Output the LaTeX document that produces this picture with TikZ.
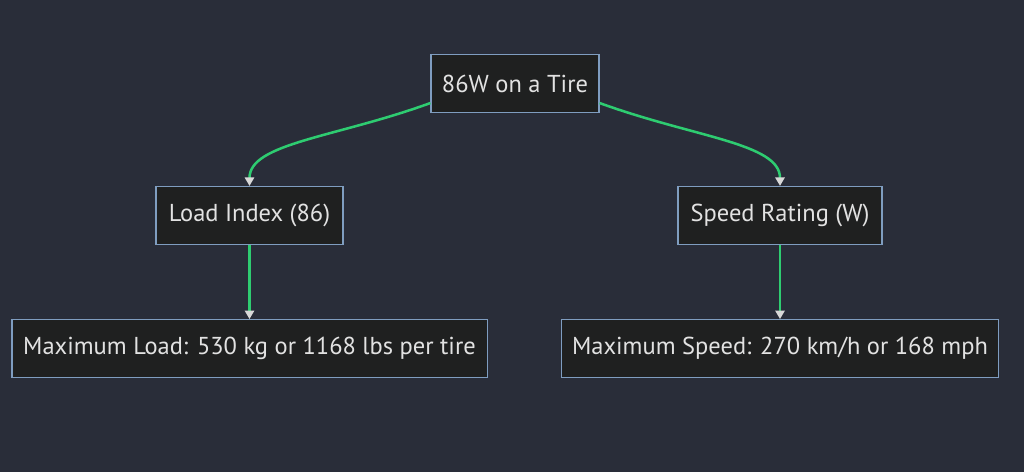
\documentclass[tikz,border=0pt]{standalone}
\usepackage{fontspec}
\setmainfont{PT Sans}
\usepackage{xcolor}
\definecolor{colorBack}{HTML}{292D39}
\definecolor{colorBox}{HTML}{1F2020}
\definecolor{colorBorder}{HTML}{7F9DC0}
\definecolor{colorText}{HTML}{E2E2E2}
\definecolor{colorLink}{HTML}{2ECC71}
\definecolor{colorTip}{HTML}{D8D8D8}
\usetikzlibrary{arrows.meta, positioning}
\tikzset{box/.style={draw=colorBorder, fill=colorBox, line width=0.8pt, text=colorText, font=\fontsize{17.4}{19}\selectfont, minimum height=1.45cm, inner sep=0pt}}
\tikzset{link/.style={->, colorLink, line width=1.8pt}}

\begin{document}
\begin{tikzpicture}[>={Triangle[length=6pt,width=6.5pt,color=colorTip]}, node distance=1.85cm, x=0.025cm, y=-0.025cm]
\fill[colorBack] (0,0) rectangle (1024,472);
\useasboundingbox (0,0) rectangle (1024,472);
\node[box, minimum width=4.2cm] (tire) at (515,83.5) {86W on a Tire};
\node[box, minimum width=4.675cm] (load) at (249.5,215.5) {Load Index (86)};
\node[box, minimum width=5.1cm] (speed) at (780,215.5) {Speed Rating (W)};
\node[box, minimum width=11.875cm, below=of load] (maxload) {Maximum Load: 530 kg or 1168 lbs per tire};
\node[box, minimum width=10.925cm, below=of speed] (maxspeed) {Maximum Speed: 270 km/h or 168 mph};
\draw [link] (tire.193) to[out=200, in=90, out looseness=1.3, in looseness=0.55] (load.north);
\draw [link] (tire.-13) to[out=-20, in=90, out looseness=1.3, in looseness=0.55] (speed.north);
\draw [link] (load) -- (maxload);
\draw [link] (speed) -- (maxspeed);
\end{tikzpicture}
\end{document}
